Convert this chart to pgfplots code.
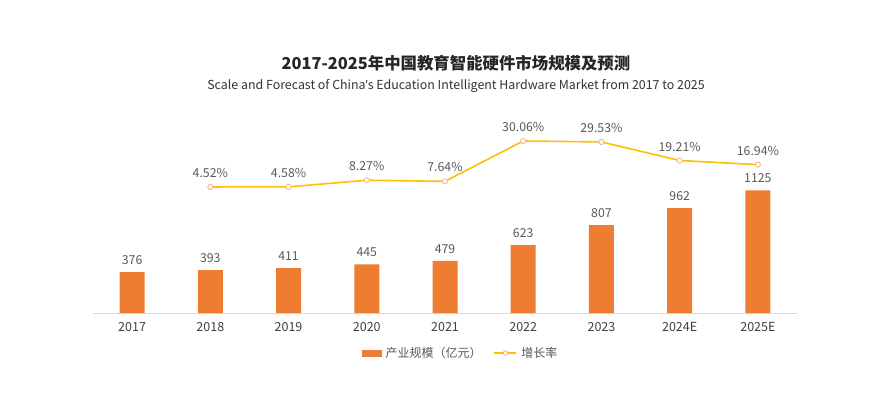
\documentclass[border=0pt]{standalone}
\usepackage{fontspec}
\setmainfont{Noto Sans CJK SC}
\newfontfamily\nsans{Noto Sans}
\usepackage{pgfplots}
\pgfplotsset{compat=1.18}
\definecolor{barorange}{HTML}{ED7D31}
\definecolor{lineyellow}{HTML}{FFC000}
\definecolor{markedge}{HTML}{F4B183}
\definecolor{lbl}{HTML}{595959}
\definecolor{tick}{HTML}{404040}
\definecolor{baseline}{HTML}{D9D9D9}
\pgfplotsset{shortline/.style={legend image code/.code={%
  \draw[lineyellow, line width=1.6pt] (0pt,0pt) -- (22pt,0pt);
  \filldraw[fill=white, draw=markedge, line width=0.8pt] (11pt,0pt) circle (2.3pt);}}}
\begin{document}
\begin{tikzpicture}[x=1pt,y=1pt]
\fill[white] (0,0) rectangle (874,396);
\node[font=\fontsize{16.4}{19}\selectfont\bfseries, text=black!85] at (456,333) {2017-2025年中国教育智能硬件市场规模及预测};
\node[font=\fontsize{12.4}{15}\selectfont, text=black!80] at (456,310) {Scale and Forecast of China{\nsans ’}s Education Intelligent Hardware Market from 2017 to 2025};
\begin{axis}[
  at={(93pt,83pt)}, anchor=south west,
  scale only axis, width=704pt, height=183pt,
  xmin=-0.5, xmax=8.5, ymin=0, ymax=1679,
  axis x line*=bottom, axis y line=none,
  x axis line style={draw=baseline, line width=0.8pt, -},
  xtick={0,...,8},
  xticklabels={2017,2018,2019,2020,2021,2022,2023,2024E,2025E},
  major tick length=0pt,
  xticklabel style={font=\fontsize{12.5}{15}\selectfont, text=tick, yshift=-5.5pt},
  /pgf/number format/assume math mode=true,
  /pgf/number format/1000 sep={},
  ybar, bar width=25pt,
  nodes near coords,
  every node near coord/.append style={font=\fontsize{12.3}{15}\selectfont, text=lbl, anchor=south, yshift=4pt},
  legend style={at={(axis description cs:0.522,-0.219)}, anchor=center, draw=none, fill=none,
    legend columns=2, font=\fontsize{12}{14}\selectfont, text=lbl,
    /tikz/every even column/.append style={column sep=10pt},
    /tikz/every odd column/.append style={column sep=2pt}},
]
\addplot[fill=barorange, draw=none,
  legend image code/.code={\fill[barorange] (0pt,-3.5pt) rectangle (20pt,3.5pt);}]
  coordinates {(0,376) (1,393) (2,411) (3,445) (4,479) (5,623) (6,807) (7,962) (8,1125)};
\addlegendentry{产业规模（亿元）}
\addlegendimage{shortline}
\addlegendentry{增长率}
\end{axis}
\begin{axis}[
  at={(93pt,83pt)}, anchor=south west,
  scale only axis, width=704pt, height=183pt,
  xmin=-0.5, xmax=8.5, ymin=-65.5, ymax=36.17,
  hide axis,
  point meta=explicit symbolic,
  nodes near coords,
  every node near coord/.append style={font=\fontsize{12.3}{15}\selectfont, text=lbl, anchor=south, yshift=5.5pt},
]
\addplot[draw=lineyellow, line width=1.6pt, mark=*, mark size=2.6pt,
  mark options={draw=markedge, fill=white, line width=0.8pt}]
  coordinates {(1,4.52) [4.52\%] (2,4.58) [4.58\%] (3,8.27) [8.27\%] (4,7.64) [7.64\%]
    (5,30.06) [30.06\%] (6,29.53) [29.53\%] (7,19.21) [19.21\%] (8,16.94) [16.94\%]};
\end{axis}
\end{tikzpicture}
\end{document}
